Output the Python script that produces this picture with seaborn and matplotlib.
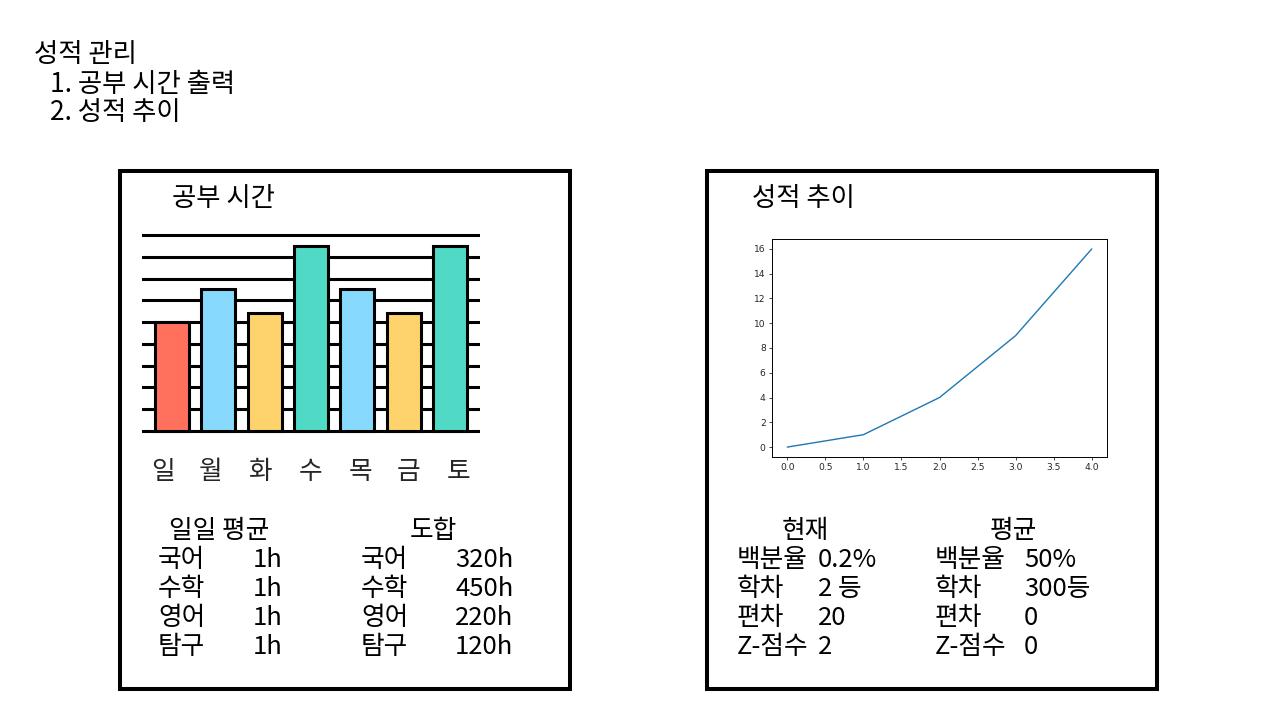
import matplotlib
matplotlib.use("Agg")
import matplotlib.pyplot as plt
import seaborn as sns
import pandas as pd
from matplotlib.patches import Rectangle

sns.set_style("white")
plt.rcParams['font.family'] = ['Noto Sans CJK KR', 'DejaVu Sans']

# ---------------- data ----------------
outline_title = "성적 관리"
outline_items = ["1. 공부 시간 출력", "2. 성적 추이"]

study_title = "공부 시간"
days = ["일", "월", "화", "수", "목", "금", "토"]
study_hours = [5.0, 6.5, 5.4, 8.5, 6.5, 5.4, 8.5]
bar_colors = ["#FF705D", "#87D9FE", "#FFD36C", "#50D9C4", "#87D9FE", "#FFD36C", "#50D9C4"]
grid_levels = list(range(10))

daily_header = "일일 평균"
total_header = "도합"
subjects = ["국어", "수학", "영어", "탐구"]
daily_avg = ["1h", "1h", "1h", "1h"]
totals = ["320h", "450h", "220h", "120h"]

trend_title = "성적 추이"
trend_x = [0, 1, 2, 3, 4]
trend_y = [0, 1, 4, 9, 16]

current_header = "현재"
average_header = "평균"
metrics = ["백분율", "학차", "편차", "Z-점수"]
current_vals = ["0.2%", "2 등", "20", "2"]
average_vals = ["50%", "300등", "0", "0"]

# ---------------- layout helpers ----------------
W, H = 1280, 720
fig = plt.figure(figsize=(12.8, 7.2), dpi=100)
fig.patch.set_facecolor("white")


def fx(px):
    return px / W


def fy(py):
    return 1 - py / H


def axes_px(x0, y0, x1, y1):
    return fig.add_axes([fx(x0), fy(y1), fx(x1 - x0), (y1 - y0) / H])


def txt(px, py, s, size=18.5, ha="left"):
    fig.text(fx(px), fy(py), s, fontsize=size, ha=ha, va="center", color="black")


# outline text
txt(34, 54, outline_title, size=19)
txt(50, 84, outline_items[0], size=19)
txt(50, 113, outline_items[1], size=19)

# boxes
for x0 in (120, 707):
    fig.patches.append(Rectangle((fx(x0), fy(689)), fx(450), (689 - 171) / H,
                                 transform=fig.transFigure, fill=False,
                                 edgecolor="black", linewidth=2.9, zorder=0))

# ---------------- bar chart ----------------
txt(172, 199, study_title, size=19)
ppu = (431 - 235) / 9.0
pad = 9
step = 46.3
ax = axes_px(142, 235 - pad, 480, 431 + pad)
df = pd.DataFrame({"day": days, "hours": study_hours})
sns.barplot(data=df, x="day", y="hours", hue="day", palette=bar_colors,
            legend=False, width=0.73, edgecolor="black", linewidth=2.2,
            saturation=1, ax=ax, zorder=3)
for lv in grid_levels:
    ax.axhline(lv, color="black", linewidth=2.2, zorder=1)
ax.set_xlim(-30 / step, 6 + 30 / step)
ax.set_ylim(-pad / ppu, 9 + pad / ppu)
for s in ax.spines.values():
    s.set_visible(False)
ax.set_yticks([])
ax.set_xlabel("")
ax.set_ylabel("")
# day labels sit slightly more spread out than the bars
label_px = [163, 211, 260, 310, 360, 408, 458]
ax.set_xticks([(p - 172) / step for p in label_px])
ax.set_xticklabels(days)
ax.tick_params(axis="x", length=0, pad=14, labelsize=18.5)
ax.patch.set_alpha(0)

# left table
txt(219, 531, daily_header, ha="center")
txt(433, 531, total_header, ha="center")
for i, (sub, d, t) in enumerate(zip(subjects, daily_avg, totals)):
    yy = 560 + 29 * i
    txt(158, yy, sub)
    txt(253, yy, d)
    txt(361, yy, sub)
    txt(455, yy, t)

# ---------------- line chart ----------------
txt(752, 199, trend_title, size=19)
ax2 = axes_px(772, 239, 1107, 457)
sns.lineplot(x=trend_x, y=trend_y, ax=ax2, color="#1f77b4", linewidth=1.0)
ax2.set_xticks([0, 0.5, 1, 1.5, 2, 2.5, 3, 3.5, 4])
ax2.set_yticks(range(0, 17, 2))
ax2.tick_params(labelsize=6.6, length=2.5, width=0.6, pad=2, left=True, bottom=True)
for lab in ax2.get_xticklabels() + ax2.get_yticklabels():
    lab.set_fontfamily("DejaVu Sans")
for s in ax2.spines.values():
    s.set_linewidth(0.7)
    s.set_color("black")

# right table
txt(805, 531, current_header, ha="center")
txt(1013, 531, average_header, ha="center")
for i, (m, c, a) in enumerate(zip(metrics, current_vals, average_vals)):
    yy = 560 + 29 * i
    txt(737, yy, m)
    txt(818, yy, c)
    txt(935, yy, m)
    txt(1024, yy, a)

fig.savefig("out.png", dpi=100, facecolor="white")
